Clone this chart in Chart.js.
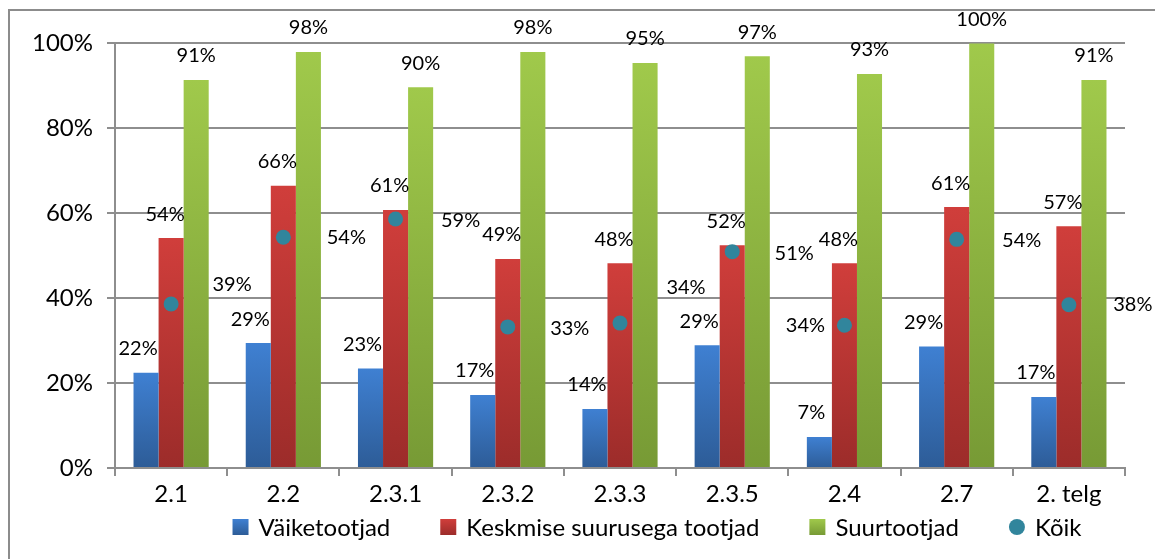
<!DOCTYPE html>
<html>
<head>
<meta charset="utf-8">
<script src="https://cdn.jsdelivr.net/npm/chart.js@4/dist/chart.umd.min.js"></script>
<style>
    html, body { margin: 0; padding: 0; background: #fff; overflow: hidden; }
    #wrap { position: relative; width: 1155px; height: 559px; }
    #frame { position: absolute; left: 8px; top: 9px; width: 1200px; height: 600px; border: 2px solid #8c8c8c; }
    canvas { position: absolute; left: 0; top: 0; }
</style>
</head>
<body>
<div id="wrap">
    <div id="frame"></div>
    <canvas id="chart" width="1155" height="559"></canvas>
</div>
<script>
const categories = ['2.1', '2.2', '2.3.1', '2.3.2', '2.3.3', '2.3.5', '2.4', '2.7', '2. telg'];
const vaiketootjad = [22.4, 29.4, 23.4, 17.2, 13.9, 28.9, 7.3, 28.6, 16.7];
const keskmised = [54.1, 66.4, 60.7, 49.2, 48.2, 52.4, 48.2, 61.4, 56.9];
const suurtootjad = [91.3, 97.9, 89.6, 97.9, 95.3, 96.9, 92.7, 99.9, 91.3];
const koik = [38.6, 54.3, 58.6, 33.2, 34.1, 50.9, 33.6, 53.8, 38.4];
const yTicks = [0, 20, 40, 60, 80, 100];

// where Excel put the "Kõik" labels, relative to the dot
const koikLabelDx = [61, 63, 65, 62, 66, 62, -39, 65, 64];
const koikLabelDy = [-19, 0, 2, 2, -36, 2, 0, 1, 0];

const FONT = 'Lato, "Open Sans", sans-serif';

const palette = {
    blue: ['#3f80d2', '#2d5c97'],
    red: ['#d03e3b', '#9c2c2a'],
    green: ['#a0c94b', '#779a35']
};

function barGradient(colors) {
    return function (ctx) {
        const chart = ctx.chart;
        if (!chart.chartArea || ctx.type !== 'data') return colors[0];
        const y = chart.scales.y;
        const top = y.getPixelForValue(ctx.raw);
        const bottom = y.getPixelForValue(0);
        const g = chart.ctx.createLinearGradient(0, top, 0, bottom);
        g.addColorStop(0, colors[0]);
        g.addColorStop(1, colors[1]);
        return g;
    };
}

const pct = v => Math.round(v) + '%';

const labelPlugin = {
    id: 'valueLabels',
    afterDatasetsDraw(chart) {
        const ctx = chart.ctx;
        ctx.save();
        ctx.font = '20px ' + FONT;
        ctx.fillStyle = '#000';
        ctx.textAlign = 'center';
        ctx.textBaseline = 'middle';
        const barDx = [-8, -6, 0];
        [0, 1, 2].forEach(di => {
            const meta = chart.getDatasetMeta(di);
            const data = chart.data.datasets[di].data;
            meta.data.forEach((bar, i) => {
                ctx.fillText(pct(data[i]), bar.x + barDx[di], bar.y - 24);
            });
        });
        const pm = chart.getDatasetMeta(3);
        pm.data.forEach((pt, i) => {
            ctx.fillText(pct(koik[i]), pt.x + koikLabelDx[i], pt.y + koikLabelDy[i]);
        });
        ctx.restore();
    }
};

const legendPlugin = {
    id: 'bottomLegend',
    afterDraw(chart) {
        const ctx = chart.ctx;
        const items = [
            { text: 'Väiketootjad', colors: palette.blue },
            { text: 'Keskmise suurusega tootjad', colors: palette.red },
            { text: 'Suurtootjad', colors: palette.green },
            { text: 'Kõik', dot: '#31859c' }
        ];
        const box = 16, gapText = 10, gapItem = 50, cy = 527;
        ctx.save();
        ctx.font = '24px ' + FONT;
        ctx.textBaseline = 'middle';
        let total = 0;
        items.forEach((it, i) => {
            it.w = ctx.measureText(it.text).width;
            total += box + gapText + it.w + (i ? gapItem : 0);
        });
        let x = 657 - total / 2;
        items.forEach(it => {
            if (it.dot) {
                ctx.fillStyle = it.dot;
                ctx.beginPath();
                ctx.arc(x + box / 2, cy, 8, 0, Math.PI * 2);
                ctx.fill();
            } else {
                const g = ctx.createLinearGradient(0, cy - box / 2, 0, cy + box / 2);
                g.addColorStop(0, it.colors[0]);
                g.addColorStop(1, it.colors[1]);
                ctx.fillStyle = g;
                ctx.fillRect(x, cy - box / 2, box, box);
            }
            ctx.fillStyle = '#000';
            ctx.fillText(it.text, x + box + gapText, cy + 1);
            x += box + gapText + it.w + gapItem;
        });
        ctx.restore();
    }
};

const gridColor = '#8e8e8e';

new Chart(document.getElementById('chart'), {
    type: 'bar',
    data: {
        labels: categories,
        datasets: [
            { label: 'Väiketootjad', data: vaiketootjad, backgroundColor: barGradient(palette.blue), categoryPercentage: 0.67, barPercentage: 1, order: 2 },
            { label: 'Keskmise suurusega tootjad', data: keskmised, backgroundColor: barGradient(palette.red), categoryPercentage: 0.67, barPercentage: 1, order: 2 },
            { label: 'Suurtootjad', data: suurtootjad, backgroundColor: barGradient(palette.green), categoryPercentage: 0.67, barPercentage: 1, order: 2 },
            { type: 'line', label: 'Kõik', data: koik, showLine: false, pointRadius: 7.5, pointBackgroundColor: '#31859c', pointBorderWidth: 0, order: 1 }
        ]
    },
    options: {
        responsive: false,
        animation: false,
        layout: { padding: { top: 43, right: 30, left: 0, bottom: 0 } },
        plugins: {
            legend: { display: false },
            tooltip: { enabled: false }
        },
        scales: {
            x: {
                grid: { offset: true, drawOnChartArea: false, drawTicks: true, tickLength: 8, color: gridColor, lineWidth: 2 },
                border: { color: gridColor, width: 2 },
                ticks: { color: '#000', font: { family: FONT, size: 24 }, padding: 4 },
                afterFit(scale) { scale.height = 91; }
            },
            y: {
                min: 0,
                max: 100,
                afterBuildTicks(scale) { scale.ticks = yTicks.map(v => ({ value: v })); },
                grid: { color: gridColor, lineWidth: 2, tickLength: 8 },
                border: { color: gridColor, width: 2 },
                ticks: { color: '#000', font: { family: FONT, size: 24 }, padding: 14, callback: v => v + '%' },
                afterFit(scale) { scale.width = 115; }
            }
        }
    },
    plugins: [labelPlugin, legendPlugin]
});
</script>
</body>
</html>
